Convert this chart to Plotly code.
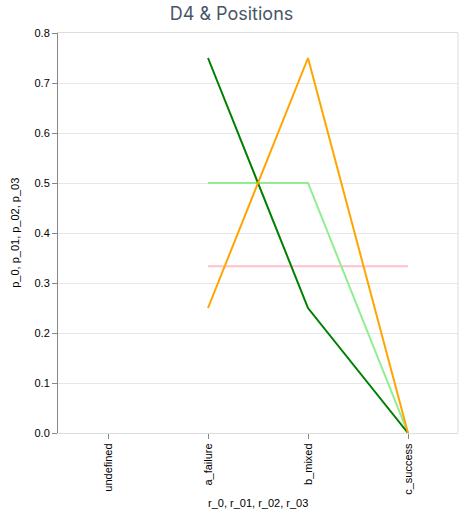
import plotly.graph_objects as go

categories = ["undefined", "a_failure", "b_mixed", "c_success"]

# series values, read at a_failure, b_mixed, c_success
r_x = ["a_failure", "b_mixed", "c_success"]
p_0 = [1/3, 1/3, 1/3]
p_01 = [0.5, 0.5, 0.0]
p_02 = [0.75, 0.25, 0.0]
p_03 = [0.25, 0.75, 0.0]

series_names = ["p_0", "p_01", "p_02", "p_03"]
colors = ["pink", "lightgreen", "green", "orange"]

fig = go.Figure()
# keeps "undefined" on the axis
fig.add_trace(go.Scatter(x=categories, y=[None] * len(categories), mode="lines",
                         showlegend=False, hoverinfo="skip"))
for name, ys, c in zip(series_names, [p_0, p_01, p_02, p_03], colors):
    fig.add_trace(go.Scatter(x=r_x, y=ys, mode="lines", name=name,
                             line=dict(color=c, width=2)))

axis_font = dict(family="Liberation Sans, Arial, sans-serif", size=11, color="#000")

fig.update_layout(
    width=463, height=513,
    margin=dict(l=58, r=5, t=33, b=80, autoexpand=False),
    paper_bgcolor="white", plot_bgcolor="white",
    showlegend=False,
    title=dict(text="D4 & Positions", x=0.5, xref="container", xanchor="center",
               y=0.974, yref="container", yanchor="middle",
               font=dict(family="Inter, Roboto, sans-serif", size=18, color="#4a5568")),
    xaxis=dict(
        type="category", categoryorder="array", categoryarray=categories,
        range=[-0.5, 3.5], tickangle=-90, ticks="outside", ticklen=5,
        tickcolor="#888", showgrid=False, showline=True, linecolor="#ddd",
        linewidth=1, mirror=True, tickfont=axis_font, automargin=False,
    ),
    yaxis=dict(
        range=[0, 0.8], dtick=0.1, tickformat=".1f", ticks="outside", ticklen=5,
        tickcolor="#888", showgrid=True, gridcolor="#e5e7eb", showline=True,
        linecolor="#888", linewidth=1, zeroline=False, tickfont=axis_font,
        automargin=False,
    ),
    annotations=[
        dict(text="r_0, r_01, r_02, r_03", xref="paper", yref="paper", x=0.5, y=-0.175,
             xanchor="center", yanchor="middle", showarrow=False, font=axis_font),
        dict(text="p_0, p_01, p_02, p_03", xref="paper", yref="paper", x=-0.108, y=0.5,
             xanchor="center", yanchor="middle", showarrow=False, textangle=-90,
             font=axis_font),
    ],
)

# right border of the view
fig.add_shape(type="line", xref="paper", yref="paper", x0=1, x1=1, y0=0, y1=1,
              line=dict(color="#ddd", width=1))

# drop the page's default body margin so the figure sits at 0,0
fig.write_html("out.html", config={"displayModeBar": False},
               post_script="document.body.style.margin='0';")
